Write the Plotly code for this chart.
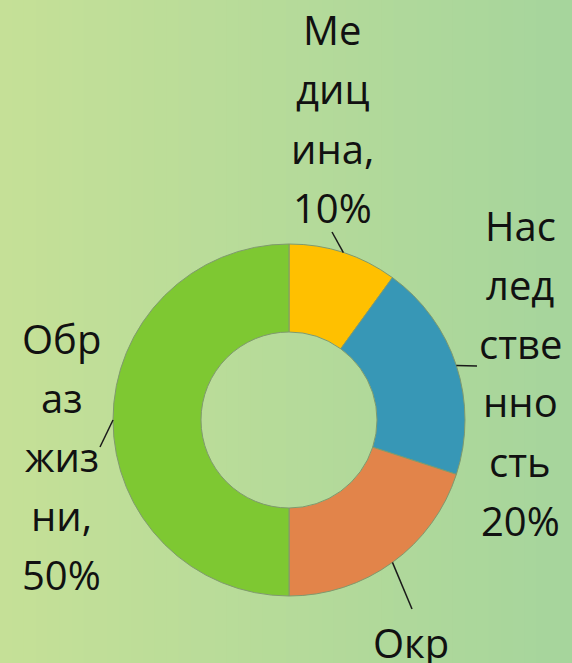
import math
import plotly.graph_objects as go

# ---- data ----
categories = ["Медицина", "Наследственность", "Окружающая среда", "Образ жизни"]
values = [10, 20, 20, 50]
colors = ["#FFC000", "#3797B6", "#E2844A", "#7EC832"]
# labels as wrapped in the reference (3-char chunks)
label_lines = [
    ["Ме", "диц", "ина,", "10%"],
    ["Нас", "лед", "стве", "нно", "сть", "20%"],
    ["Окр", "ужа", "ющ", "ая", "сре", "да,", "20%"],
    ["Обр", "аз", "жиз", "ни,", "50%"],
]

W, H = 572, 663
CX, CY, R = 289, 420, 176
LINE_STEP = 59
# label anchor: (center x, first line center y) in pixels, and leader end points
label_anchor = [(332, 30), (520, 225), (411, 642), (62, 338)]
leader_end = [(332, 232), (477, 366), (412, 609), (100, 447)]


def px(x):
    return x / W


def py(y):
    return 1 - y / H


fig = go.Figure()
fig.add_trace(go.Pie(
    labels=categories, values=values, sort=False, direction="clockwise",
    rotation=0, hole=0.5, textinfo="none", showlegend=False,
    marker=dict(colors=colors, line=dict(color="#7f9a6e", width=1)),
    domain=dict(x=[px(CX - R), px(CX + R)], y=[py(CY + R), py(CY - R)]),
))

shapes = []
# background gradient (vertical stripes)
left_c = (197, 224, 151)
right_c = (166, 213, 156)
N = 48
for i in range(N):
    t = i / (N - 1)
    c = tuple(round(left_c[k] + (right_c[k] - left_c[k]) * t) for k in range(3))
    shapes.append(dict(type="rect", xref="paper", yref="paper",
                       x0=i / N, x1=(i + 1) / N + 0.002, y0=0, y1=1,
                       fillcolor="rgb(%d,%d,%d)" % c, line=dict(width=0),
                       layer="below"))

# leader lines from slice mid-angle on the outer edge
total = sum(values)
cum = 0
for i, v in enumerate(values):
    theta = 2 * math.pi * (cum + v / 2) / total
    cum += v
    sx = CX + R * math.sin(theta)
    sy = CY - R * math.cos(theta)
    ex, ey = leader_end[i]
    shapes.append(dict(type="line", xref="paper", yref="paper",
                       x0=px(sx), y0=py(sy), x1=px(ex), y1=py(ey),
                       line=dict(color="#1a1a1a", width=1.5), layer="above"))

annotations = []
for i, lines in enumerate(label_lines):
    ax, ay = label_anchor[i]
    for j, t in enumerate(lines):
        yy = ay + j * LINE_STEP
        if yy > H + 30:
            break
        annotations.append(dict(text=t, xref="paper", yref="paper",
                                x=px(ax), y=py(yy), xanchor="center", yanchor="middle",
                                showarrow=False,
                                font=dict(family="Open Sans", size=40, color="#111111")))

fig.update_layout(
    width=W, height=H, margin=dict(l=0, r=0, t=0, b=0),
    paper_bgcolor="rgb(181,218,154)", plot_bgcolor="rgba(0,0,0,0)",
    shapes=shapes, annotations=annotations,
)
fig.write_html("out.html")
